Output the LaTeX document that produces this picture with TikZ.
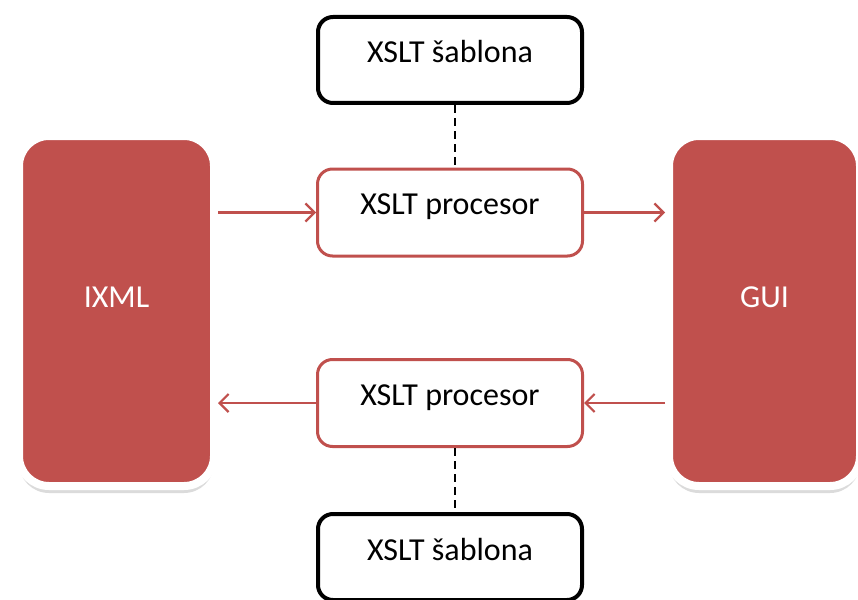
\documentclass[tikz,border=0pt]{standalone}
\usepackage{fontspec}
\setmainfont{Carlito}
\usetikzlibrary{arrows.meta,shadows}
\definecolor{accentred}{HTML}{C0504D}
\begin{document}
\begin{tikzpicture}[x=1pt,y=-1pt,
  txt/.style={font=\fontsize{32}{38}\selectfont},
  bigblock/.style={txt, rounded corners=30pt, fill=accentred, draw=white,
    line width=8pt, minimum width=195pt, minimum height=350pt, inner sep=0pt,
    text=white, text height=10pt, text depth=18pt,
    drop shadow={shadow xshift=0pt, shadow yshift=-7pt, opacity=0.14, fill=black}},
  templatebox/.style={txt, rounded corners=15pt, draw=black, fill=white,
    line width=4pt, minimum width=264pt, minimum height=86pt, inner sep=0pt,
    text height=20pt, text depth=14pt},
  procbox/.style={txt, rounded corners=15pt, draw=accentred, fill=white,
    line width=3pt, minimum width=265pt, minimum height=87pt, inner sep=0pt,
    text height=20pt, text depth=16pt},
  flow/.style={draw=accentred, line width=2.5pt,
    -{Straight Barb[length=9pt,width=18pt,line width=2.2pt]}},
  link/.style={draw=black, line width=2pt, dash pattern=on 8pt off 5pt}]
  \useasboundingbox (0,0) rectangle (858,599);
  \clip (0,0) rectangle (858,599);

  % side blocks
  \node[bigblock] (ixml) at (116.5,311) {IXML};
  \node[bigblock, minimum width=191pt] (gui) at (764.5,311) {GUI};

  % templates and processors
  \node[templatebox] (t1) at (450,60) {XSLT šablona};
  \node[procbox] (p1) at (450,212.5) {XSLT procesor};
  \node[procbox] (p2) at (450,403) {XSLT procesor};
  \node[templatebox] (t2) at (450,557) {XSLT šablona};

  % template links
  \draw[link] ([xshift=5pt]t1.south) -- ([xshift=5pt]p1.north);
  \draw[link] ([xshift=5pt]p2.south) -- ([xshift=5pt]t2.north);

  % data flow
  \draw[flow] (ixml.east |- p1.west) -- (p1.west);
  \draw[flow] (p1.east) -- (gui.west |- p1.east);
  \draw[flow] (gui.west |- p2.east) -- (p2.east);
  \draw[flow] (p2.west) -- (ixml.east |- p2.west);
\end{tikzpicture}
\end{document}
